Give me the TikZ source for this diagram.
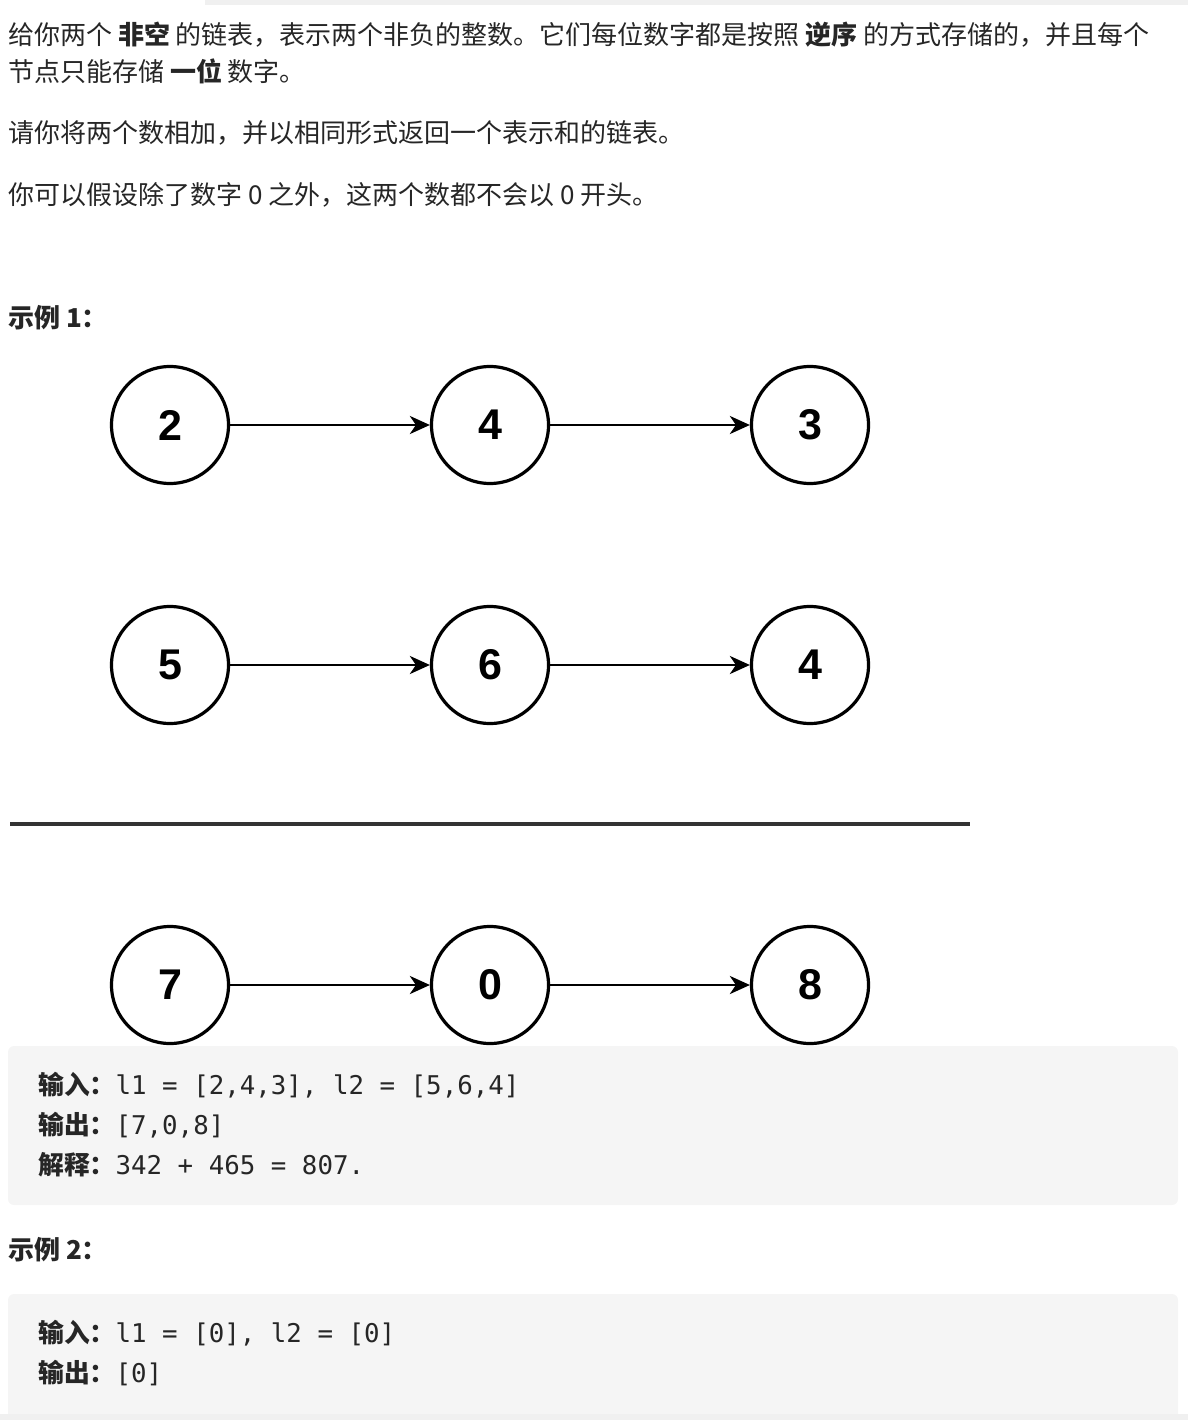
\documentclass[tikz,border=0pt]{standalone}
\usepackage{fontspec}
\newfontfamily\cjkfont{Noto Sans CJK SC}
\newfontfamily\digitfont{Liberation Sans}
\newfontfamily\codefont{DejaVu Sans Mono}
\usetikzlibrary{arrows.meta}
\definecolor{inkgray}{HTML}{262626}
\definecolor{codebg}{HTML}{F5F5F5}
\definecolor{barbg}{HTML}{F0F0F0}
\definecolor{rulegray}{HTML}{333333}
\begin{document}
\begin{tikzpicture}[x=1pt, y=-1pt,
  para/.style={anchor=west, inner sep=0pt, text=inkgray, font=\cjkfont\fontsize{26}{30}\selectfont},
  codeline/.style={anchor=west, inner sep=0pt, text=inkgray, font=\codefont\fontsize{25.8}{30}\selectfont},
  listnode/.style={circle, draw, line width=3.2pt, minimum size=117pt, inner sep=0pt, font=\digitfont\bfseries\fontsize{43}{43}\selectfont},
  link/.style={-{Stealth[length=20pt, width=18pt, inset=6pt]}, line width=2.8pt},
  codebox/.style={fill=codebg, rounded corners=6pt}]
\useasboundingbox (0, 0) rectangle (1188, 1420);
\fill [barbg] (205, 0) rectangle (1188, 5);
\node [para] (intro1) at (8, 35) {给你两个 \textbf{非空} 的链表，表示两个非负的整数。它们每位数字都是按照 \textbf{逆序} 的方式存储的，并且每个};
\node [para] (intro2) at (8, 71) {节点只能存储 \textbf{一位} 数字。};
\node [para] (intro3) at (8, 133) {请你将两个数相加，并以相同形式返回一个表示和的链表。};
\node [para] (intro4) at (8, 195) {你可以假设除了数字 0 之外，这两个数都不会以 0 开头。};
\node [para] (ex1) at (8, 318) {\textbf{示例 1：}};
% l1
\node [listnode] (a1) at (170, 425) {2};
\node [listnode] (a2) at (490, 425) {4};
\node [listnode] (a3) at (810, 425) {3};
\draw [link] (a1) -- (a2);
\draw [link] (a2) -- (a3);
% l2
\node [listnode] (b1) at (170, 665) {5};
\node [listnode] (b2) at (490, 665) {6};
\node [listnode] (b3) at (810, 665) {4};
\draw [link] (b1) -- (b2);
\draw [link] (b2) -- (b3);
\draw [rulegray, line width=4pt] (10, 824) -- (970, 824);
% sum
\node [listnode] (c1) at (170, 985) {7};
\node [listnode] (c2) at (490, 985) {0};
\node [listnode] (c3) at (810, 985) {8};
\draw [link] (c1) -- (c2);
\draw [link] (c2) -- (c3);
% code blocks
\fill [codebox] (8, 1046) rectangle (1178, 1205);
\node [codeline] (in1) at (38, 1085) {{\cjkfont\bfseries 输入：}l1 = [2,4,3], l2 = [5,6,4]};
\node [codeline] (out1) at (38, 1125) {{\cjkfont\bfseries 输出：}[7,0,8]};
\node [codeline] (why1) at (38, 1165) {{\cjkfont\bfseries 解释：}342 + 465 = 807.};
\node [para] (ex2) at (8, 1250) {\textbf{示例 2：}};
\fill [codebox] (8, 1294) rectangle (1178, 1420);
\fill [barbg] (0, 1414) rectangle (1188, 1420);
\node [codeline] (in2) at (38, 1333) {{\cjkfont\bfseries 输入：}l1 = [0], l2 = [0]};
\node [codeline] (out2) at (38, 1373) {{\cjkfont\bfseries 输出：}[0]};
\end{tikzpicture}
\end{document}
